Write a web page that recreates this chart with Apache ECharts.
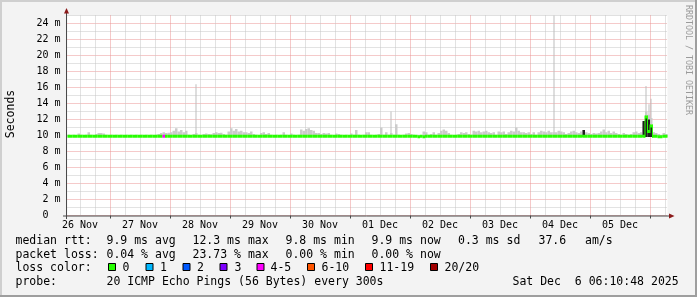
<!DOCTYPE html>
<html><head><meta charset="utf-8">
<script src="https://cdn.jsdelivr.net/npm/echarts@6/dist/echarts.min.js"></script>
<style>html,body{margin:0;padding:0;background:#f3f3f3;overflow:hidden}#c{width:697px;height:297px}</style>
</head><body><div id="c"></div>
<script>
// ---------- data ----------
const startHour = 7;            // first hourly bin starts 26 Nov 07:00
const dayLabels = ['26 Nov','27 Nov','28 Nov','29 Nov','30 Nov','01 Dec','02 Dec','03 Dec','04 Dec','05 Dec'];
const yLabelUnit = 'm';
// median RTT (ms), one value per hour bin (240 bins)
const median = [
 9.9,9.9,9.9,9.9,9.9,9.9,9.9,9.9,9.9,9.9,9.9,9.9,9.9,9.9,9.9,9.9,9.9,9.9,9.9,9.9,9.9,9.9,9.9,9.9,
 9.9,9.9,9.9,9.9,9.9,9.9,9.9,9.9,9.9,9.9,9.9,9.9,9.9,9.9,9.9,9.9,9.9,9.9,9.9,9.9,9.9,9.9,9.9,9.9,
 9.9,9.9,9.9,9.9,9.9,9.9,9.9,9.9,9.9,9.9,9.9,9.9,9.9,9.9,9.9,9.9,9.9,9.9,9.9,9.9,9.9,9.9,9.9,9.9,
 9.9,9.9,9.9,9.9,9.9,9.9,9.9,9.9,9.9,9.9,9.9,9.9,9.9,9.9,9.9,9.9,9.9,9.9,9.9,9.9,9.9,9.9,9.9,9.9,
 9.9,9.9,9.9,9.9,9.9,9.9,9.9,9.9,9.9,9.9,9.9,9.9,9.9,9.9,9.9,9.9,9.9,9.9,9.9,9.9,9.9,9.9,9.9,9.9,
 9.9,9.9,9.9,9.9,9.9,9.9,9.9,9.9,9.9,9.9,9.9,9.9,9.9,9.9,9.9,9.9,9.9,9.9,9.9,9.9,9.85,9.9,9.85,9.9,
 9.9,9.9,9.9,9.9,9.9,9.9,9.9,9.9,9.9,9.9,9.9,9.9,9.9,9.9,9.9,9.9,9.9,9.9,9.9,9.9,9.9,9.9,9.9,9.9,
 9.9,9.9,9.9,9.9,9.9,9.9,9.9,9.9,9.9,9.9,9.9,9.9,9.9,9.9,9.9,9.9,9.9,9.9,9.9,9.9,9.9,9.9,9.9,9.9,
 9.9,9.9,9.9,9.9,9.9,9.9,9.9,9.9,9.9,9.9,9.9,9.9,9.9,9.9,9.9,9.9,9.9,9.9,9.9,9.9,9.9,9.9,9.9,9.9,
 9.9,9.9,9.9,9.9,9.9,9.9,9.9,9.9,9.9,9.9,9.9,9.9,9.9,9.9,9.9,12.3,10.5,11.2,9.9,9.9,9.85,9.85,9.9,9.9
];
// upper edge of the main (light) smoke (ms), one value per hour bin
const smokeTop = [
 10.1,10.0,10.1,10.0,10.25,10.1,10.0,10.1,10.4,10.1,10.0,10.2,10.3,10.3,10.25,10.1,10.0,10.1,10.0,10.1,10.0,10.1,10.0,10.1,
 10.0,10.1,10.0,10.1,10.0,10.1,10.0,10.1,10.0,10.1,10.0,10.1,10.2,10.3,10.4,10.3,10.35,10.4,10.6,10.9,10.5,10.7,10.4,10.6,
 10.1,10.0,10.2,10.3,10.1,10.0,10.2,10.25,10.2,10.15,10.3,10.4,10.3,10.35,10.2,10.1,10.5,10.9,10.6,10.8,10.5,10.6,10.4,10.4,
 10.3,10.5,10.2,10.1,10.0,10.3,10.4,10.2,10.3,10.1,10.0,10.1,10.0,10.1,10.4,10.1,10.0,10.25,10.1,10.0,10.1,10.75,10.6,10.8,
 10.9,10.7,10.6,10.3,10.3,10.2,10.3,10.25,10.3,10.1,10.0,10.25,10.2,10.1,10.0,10.1,10.0,10.25,10.1,10.7,10.1,10.0,10.1,10.4,
 10.4,10.1,10.0,10.1,10.2,11.0,10.1,10.4,10.1,10.3,10.1,11.4,10.1,10.0,10.1,10.25,10.3,10.2,10.1,10.0,10.1,10.0,10.5,10.4,
 10.1,10.2,10.4,10.1,10.3,10.6,10.75,10.6,10.3,10.1,10.0,10.1,10.2,10.4,10.3,10.4,10.2,10.1,10.6,10.5,10.6,10.4,10.5,10.6,
 10.4,10.3,10.4,10.1,10.5,10.4,10.5,10.2,10.4,10.6,10.5,11.0,10.6,10.4,10.4,10.3,10.4,10.2,10.4,10.1,10.4,10.6,10.5,10.4,
 10.6,10.4,10.4,10.4,10.6,10.5,10.4,10.2,10.3,10.5,10.6,10.4,10.3,10.5,10.7,10.4,10.3,10.2,10.3,10.25,10.3,10.5,10.75,10.4,
 10.6,10.3,10.5,10.3,10.2,10.1,10.3,10.2,10.1,10.2,10.4,10.5,10.3,10.4,11.6,13.0,12.6,12.2,10.4,10.3,10.2,10.1,10.3,10.2
];
const smokeFloor = 9.8;
// single outlying pings (thin light spikes)
const spikeBins = [51, 129, 194, 231, 232, 233];
const spikeTop  = [16.4, 13.0, 25.5, 16.2, 13.9, 14.6];
// dense (dark) smoke
const darkBins = [206, 230, 231, 232, 233];
const darkTop  = [10.7, 11.8, 12.4, 12.0, 11.3];
// packet loss events (bin index, loss colour level)
const lossBins  = [38];
const lossLevel = [4];
const lossColors = ['#26ff00','#00b8ff','#0059ff','#7e00ff','#ff00ff','#ff5500','#ff0000','#a10000'];
const lossLabels = ['0','1','2','3','4-5','6-10','11-19','20/20'];
const rttStats  = ['median rtt:','9.9 ms avg','12.3 ms max','9.8 ms min','9.9 ms now','0.3 ms sd','37.6','am/s'];
const lossStats = ['packet loss:','0.04 % avg','23.73 % max','0.00 % min','0.00 % now'];
const lossTitle = 'loss color:';
const probeTitle = 'probe:';
const probeText = '20 ICMP Echo Pings (56 Bytes) every 300s';
const dateText  = 'Sat Dec  6 06:10:48 2025';
const yTitle = 'Seconds';
const watermark = 'RRDTOOL / TOBI OETIKER';

// ---------- layout ----------
const FONT = 'DejaVu Sans Mono';
const G = {left: 67.5, top: 15.5, width: 600, height: 200};
const rttX  = [15.5, 106.5, 192.5, 285.5, 371.5, 458, 538.5, 585];
const lossX = [15.5, 106.5, 192.5, 285.5, 371.5];
const sqX   = [108, 145.5, 182.5, 219.5, 256.5, 307, 365, 430];
const lblX  = [122.5, 160, 197, 234.5, 270.5, 321.5, 379.5, 444.5];
const rowY  = [240.8, 254.8, 268.1, 282.3];
const RED = '#eb9494', GREY = '#c6c6c6';

const nBins = median.length;
const bins = median.map((_, i) => 'b' + i);
const marks = []; for (let j = 0; j <= nBins; j++) marks.push('m' + j);
const hourOf = j => (startHour + j) % 24;
const dayOf = j => Math.floor((startHour + j) / 24);
const lossOf = {}; lossBins.forEach((b, k) => lossOf[b] = lossLevel[k]);

const chart = echarts.init(document.getElementById('c'), null, {renderer: 'canvas'});

function smokeRender(color, narrow) {
  return function (params, api) {
    const i = api.value(0), lo = api.value(1), hi = api.value(2);
    const a = api.coord([i, hi]), b = api.coord([i, lo]);
    const w = narrow ? 1 : api.size([1, 0])[0];
    const x = narrow ? Math.round(a[0]) - 0.5 : a[0] - w / 2;
    return {type: 'rect', shape: {x, y: a[1], width: w, height: b[1] - a[1]}, style: {fill: color}};
  };
}
function medianRender(params, api) {
  const i = api.value(0), m = api.value(1);
  const p = api.coord([i, m]);
  const w = api.size([1, 0])[0];
  const col = lossColors[lossOf[i] || 0];
  const children = [{type: 'rect', shape: {x: p[0] - w / 2, y: p[1] - 1.5, width: w, height: 3}, style: {fill: col}}];
  if (i > 0 && Math.abs(median[i - 1] - m) > 0.3) {
    const q = api.coord([i - 1, median[i - 1]]);
    const y0 = Math.min(p[1], q[1]) - 1.5, y1 = Math.max(p[1], q[1]) + 1.5;
    children.push({type: 'rect', shape: {x: p[0] - w / 2 - 0.5, y: y0, width: 1, height: y1 - y0}, style: {fill: col}});
  }
  return {type: 'group', children};
}

const txt = (s, x, y) => ({type: 'text', x, y, z: 100, silent: true,
  style: {text: s, fontFamily: FONT, fontSize: 11.5, fill: '#000', verticalAlign: 'middle', align: 'left'}});

const graphics = [
  {type: 'rect', shape: {x: 0, y: 0, width: 697, height: 2}, style: {fill: '#cfcfcf'}, z: 50},
  {type: 'rect', shape: {x: 0, y: 0, width: 2, height: 297}, style: {fill: '#cfcfcf'}, z: 50},
  {type: 'rect', shape: {x: 0, y: 295, width: 697, height: 2}, style: {fill: '#9e9e9e'}, z: 50},
  {type: 'rect', shape: {x: 695, y: 0, width: 2, height: 297}, style: {fill: '#9e9e9e'}, z: 50},
  // axis lines + arrows
  {type: 'line', shape: {x1: 63, y1: 216, x2: 670, y2: 216}, style: {stroke: '#4a4a4a', lineWidth: 1}, z: 60},
  {type: 'line', shape: {x1: 66.5, y1: 219, x2: 66.5, y2: 11}, style: {stroke: '#4a4a4a', lineWidth: 1}, z: 60},
  {type: 'polygon', shape: {points: [[64, 13.5], [69, 13.5], [66.5, 8]]}, style: {fill: '#8b1a1a'}, z: 61},
  {type: 'polygon', shape: {points: [[669, 213.5], [669, 218.5], [674.5, 216]]}, style: {fill: '#8b1a1a'}, z: 61},
  // titles
  {type: 'text', x: 11, y: 114, rotation: Math.PI / 2, z: 100,
   style: {text: yTitle, fontFamily: FONT, fontSize: 11.5, fill: '#000', align: 'center', verticalAlign: 'middle'}},
  {type: 'text', x: 688.5, y: 60, rotation: -Math.PI / 2, z: 100,
   style: {text: watermark, fontFamily: FONT, fontSize: 8.3, fill: '#9a9a9a', align: 'center', verticalAlign: 'middle'}}
];
rttStats.forEach((s, k) => graphics.push(txt(s, rttX[k], rowY[0])));
lossStats.forEach((s, k) => graphics.push(txt(s, lossX[k], rowY[1])));
graphics.push(txt(lossTitle, 15.5, rowY[2]));
lossLabels.forEach((s, k) => {
  graphics.push({type: 'rect', z: 100, shape: {x: sqX[k] + 0.5, y: 263.5, width: 7, height: 7},
    style: {fill: lossColors[k], stroke: '#000', lineWidth: 1}});
  graphics.push(txt(s, lblX[k], rowY[2]));
});
graphics.push(txt(probeTitle, 15.5, rowY[3]));
graphics.push(txt(probeText, 106.5, rowY[3]));
graphics.push(txt(dateText, 512.5, rowY[3]));

const hidden = {axisLine: {show: false}, axisTick: {show: false}, axisLabel: {show: false}};

chart.setOption({
  animation: false,
  backgroundColor: '#f3f3f3',
  grid: Object.assign({show: true, backgroundColor: '#ffffff', borderWidth: 0, containLabel: false}, G),
  xAxis: [
    Object.assign({type: 'category', data: bins, boundaryGap: true, splitLine: {show: false}}, hidden),
    Object.assign({type: 'category', data: marks, boundaryGap: false,
      splitLine: {show: true, interval: j => hourOf(j) % 6 === 0 && hourOf(j) !== 0,
        lineStyle: {color: GREY, type: [1, 1], width: 1}}}, hidden),
    {type: 'category', data: marks, boundaryGap: false, position: 'bottom',
      axisLine: {show: false},
      axisTick: {show: true, interval: j => hourOf(j) === 0, length: 3, lineStyle: {color: '#4a4a4a'}},
      axisLabel: {show: true, interval: j => hourOf(j) === 12, margin: 5,
        formatter: (v, j) => dayLabels[dayOf(j)] || '', fontFamily: FONT, fontSize: 10, color: '#000'},
      splitLine: {show: true, interval: j => hourOf(j) === 0, lineStyle: {color: RED, type: [1, 1], width: 1}}}
  ],
  yAxis: [
    {type: 'value', min: 0, max: 25, interval: 1, position: 'left',
      axisLine: {show: false}, axisTick: {show: false},
      axisLabel: {show: true, margin: 7, fontFamily: FONT, fontSize: 10, color: '#000',
        formatter: v => v === 0 ? '0  ' : (v % 2 === 0 ? v + ' ' + yLabelUnit : '')},
      splitLine: {show: true, lineStyle: {color: [RED, GREY], type: [1, 1], width: 1}}}
  ],
  series: [
    {type: 'custom', xAxisIndex: 0, yAxisIndex: 0, clip: true, renderItem: smokeRender('#bdbdbd', true),
     encode: {x: 0, y: [1, 2]}, data: spikeBins.map((b, k) => [b, smokeFloor, spikeTop[k]]), z: 2},
    {type: 'custom', xAxisIndex: 0, yAxisIndex: 0, clip: true, renderItem: smokeRender('#cbcbcb', false),
     encode: {x: 0, y: [1, 2]}, data: smokeTop.map((t, i) => [i, smokeFloor, t]), z: 3},
    {type: 'custom', xAxisIndex: 0, yAxisIndex: 0, clip: true, renderItem: smokeRender('#1e1e1e', false),
     encode: {x: 0, y: [1, 2]}, data: darkBins.map((b, k) => [b, smokeFloor, darkTop[k]]), z: 4},
    {type: 'custom', xAxisIndex: 0, yAxisIndex: 0, clip: true, renderItem: medianRender,
     encode: {x: 0, y: 1}, data: median.map((m, i) => [i, m]), z: 5}
  ],
  graphic: graphics
});
</script>
</body></html>
